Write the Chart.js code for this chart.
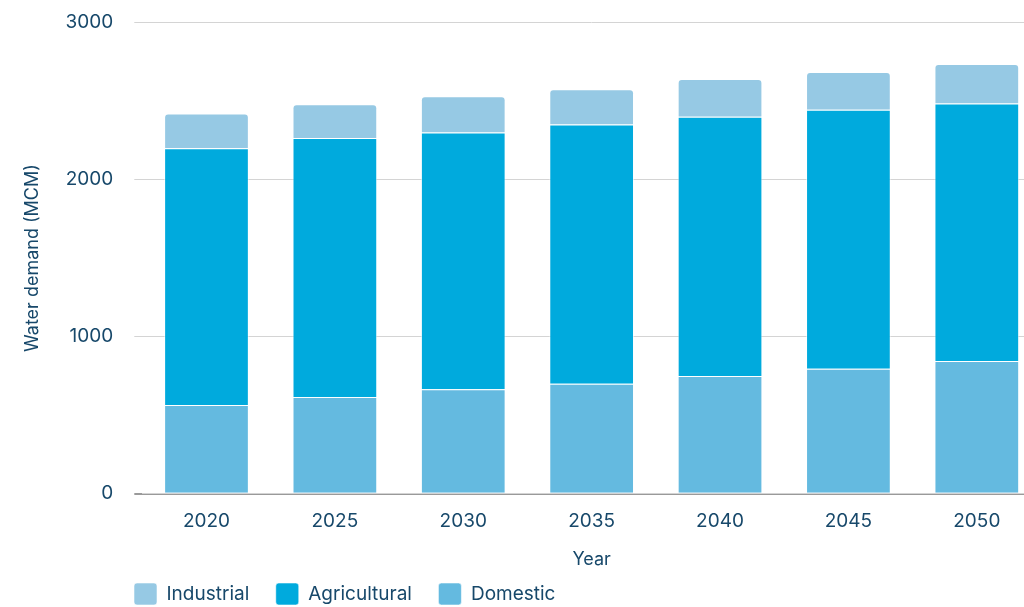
<!DOCTYPE html>
<html>
<head>
<meta charset="utf-8">
<script src="https://cdn.jsdelivr.net/npm/chart.js@4/dist/chart.umd.min.js"></script>
<style>
  html, body { margin: 0; padding: 0; background: #fff; overflow: hidden; }
  #wrap { position: relative; width: 1046px; height: 607px; }
</style>
</head>
<body>
<div id="wrap"><canvas id="chart"></canvas></div>
<script>
// Water demand projections by sector (million cubic metres)
const years = ['2020', '2025', '2030', '2035', '2040', '2045', '2050'];
const domestic = [565, 615, 665, 700, 750, 795, 845];
const agricultural = [1635, 1650, 1635, 1650, 1650, 1650, 1640];
const industrial = [220, 215, 230, 225, 240, 240, 250];
const yTicks = [0, 1000, 2000, 3000];

const textColor = '#17486a';
const fontFamily = 'Inter, "Noto Sans", sans-serif';

// Put the legend row under the value axis, just below the axis title
const legendPlacement = {
  id: 'legendPlacement',
  afterLayout(chart) {
    const lg = chart.legend;
    if (!lg) return;
    const pad = lg.options.labels.padding;
    const dx = (134 - pad) - lg.left;
    const dy = (583 - pad) - lg.top;
    lg.left += dx; lg.right += dx;
    lg.top += dy; lg.bottom += dy;
  }
};

const segmentBorder = 'rgba(255,255,255,0.55)';

new Chart(document.getElementById('chart'), {
  type: 'bar',
  data: {
    labels: years,
    datasets: [
      {
        label: 'Domestic',
        data: domestic,
        backgroundColor: '#64bae0',
        borderColor: segmentBorder,
        borderWidth: 1
      },
      {
        label: 'Agricultural',
        data: agricultural,
        backgroundColor: '#00aadd',
        borderColor: segmentBorder,
        borderWidth: 1
      },
      {
        label: 'Industrial',
        data: industrial,
        backgroundColor: '#96c9e4',
        borderColor: segmentBorder,
        borderWidth: 1,
        borderRadius: { topLeft: 4, topRight: 4 },
        borderSkipped: 'bottom'
      }
    ]
  },
  options: {
    responsive: true,
    maintainAspectRatio: false,
    animation: false,
    layout: { padding: { top: 22.5, left: 10, right: 5, bottom: -21.5 } },
    datasets: {
      bar: { barPercentage: 0.66, categoryPercentage: 1 }
    },
    scales: {
      x: {
        stacked: true,
        grid: { display: false },
        border: { display: true, color: '#d4d4d4', width: 1 },
        ticks: { color: textColor, font: { family: fontFamily, size: 19 }, padding: 7.8 },
        title: {
          display: true,
          text: 'Year',
          color: textColor,
          font: { family: fontFamily, size: 18 },
          padding: { top: 8.3, bottom: 0 }
        }
      },
      y: {
        stacked: true,
        min: 0,
        max: 3000,
        afterBuildTicks(scale) {
          scale.ticks = yTicks.map(v => ({ value: v }));
        },
        grid: {
          color: ctx => (ctx.tick && ctx.tick.value === 0 ? '#9a9a9a' : '#d4d4d4'),
          lineWidth: ctx => (ctx.tick && ctx.tick.value === 0 ? 2 : 1),
          tickLength: 24,
          // only the 8px next to the plot area is stroked
          tickBorderDash: [8, 16],
          tickBorderDashOffset: 8,
          drawTicks: true
        },
        border: { display: false },
        ticks: {
          color: textColor,
          font: { family: fontFamily, size: 19 },
          padding: 5,
          callback: v => String(v)
        },
        title: {
          display: true,
          text: 'Water demand (MCM)',
          color: textColor,
          font: { family: fontFamily, size: 18 },
          padding: { top: 12, bottom: 17 }
        }
      }
    },
    plugins: {
      legend: {
        position: 'bottom',
        align: 'start',
        reverse: true,
        labels: {
          color: textColor,
          font: { family: fontFamily, size: 19 },
          boxWidth: 23,
          boxHeight: 22,
          useBorderRadius: true,
          borderRadius: 3,
          padding: 26.5
        }
      },
      tooltip: { enabled: false }
    }
  },
  plugins: [legendPlacement]
});
</script>
</body>
</html>
